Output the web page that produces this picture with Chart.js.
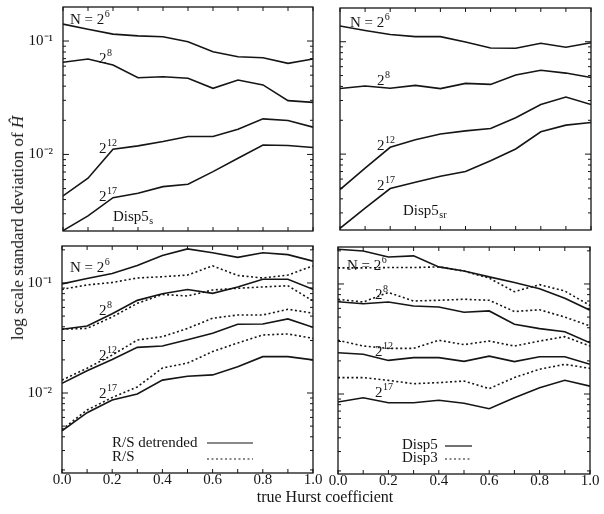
<!DOCTYPE html>
<html>
<head>
<meta charset="utf-8">
<script src="https://cdn.jsdelivr.net/npm/chart.js@4.4.1/dist/chart.umd.min.js"></script>
<style>
  body { margin: 0; background: #fff; }
  #wrap { position: relative; width: 604px; height: 514px; overflow: hidden; font-family: "Liberation Serif", "Times New Roman", serif; color: #151515; }
  canvas { position: absolute; left: 0; top: 0; }
  #ytitle { position: absolute; left: 18px; top: 228px; transform: translate(-50%, -50%) rotate(-90deg); white-space: nowrap; font-size: 17px; }
  #xtitle { position: absolute; left: 325px; top: 497px; transform: translate(-50%, -50%); white-space: nowrap; font-size: 16px; }
</style>
</head>
<body>
<div id="wrap">
  <canvas id="disp5s" width="604" height="514"></canvas>
  <canvas id="disp5sr" width="604" height="514"></canvas>
  <canvas id="rs" width="604" height="514"></canvas>
  <canvas id="disp" width="604" height="514"></canvas>
  <div id="ytitle">log scale standard deviation of <i>Ĥ</i></div>
  <div id="xtitle">true Hurst coefficient</div>
</div>
<script>
// true Hurst coefficient (x categories)
const hurst = [0.0, 0.1, 0.2, 0.3, 0.4, 0.5, 0.6, 0.7, 0.8, 0.9, 1.0];

// Disp5s (top left)
const s6  = [0.141, 0.127, 0.115, 0.111, 0.109, 0.0986, 0.0805, 0.0727, 0.0713, 0.0636, 0.0694];
const s8  = [0.0649, 0.0694, 0.0615, 0.0475, 0.0484, 0.0469, 0.0383, 0.0453, 0.0410, 0.0298, 0.0288];
const s12 = [0.00431, 0.00617, 0.0111, 0.0119, 0.0130, 0.0144, 0.0144, 0.0167, 0.0206, 0.0199, 0.0174];
const s17 = [0.00213, 0.00287, 0.00416, 0.00455, 0.00520, 0.00546, 0.00705, 0.00927, 0.0121, 0.0120, 0.0115];

// Disp5sr (top right)
const sr6  = [0.138, 0.126, 0.116, 0.111, 0.111, 0.0994, 0.0880, 0.0875, 0.0968, 0.0893, 0.0980];
const sr8  = [0.0383, 0.0404, 0.0386, 0.0409, 0.0383, 0.0426, 0.0417, 0.0505, 0.0557, 0.0526, 0.0480];
const sr12 = [0.00484, 0.00752, 0.0115, 0.0134, 0.0151, 0.0161, 0.0169, 0.0211, 0.0276, 0.0322, 0.0276];
const sr17 = [0.00219, 0.00330, 0.00494, 0.00562, 0.00636, 0.00701, 0.00873, 0.0111, 0.0158, 0.0181, 0.0191];

// R/S detrended (solid) and R/S (dotted), bottom left
const rsd6  = [0.098, 0.110, 0.122, 0.144, 0.178, 0.204, 0.188, 0.171, 0.188, 0.181, 0.158];
const rs6   = [0.0875, 0.096, 0.101, 0.111, 0.114, 0.118, 0.143, 0.117, 0.111, 0.118, 0.143];
const rsd8  = [0.0380, 0.0406, 0.0526, 0.0695, 0.0798, 0.0873, 0.0805, 0.092, 0.108, 0.108, 0.0877];
const rs8   = [0.0380, 0.0387, 0.0491, 0.0653, 0.0785, 0.0762, 0.0863, 0.0895, 0.092, 0.0944, 0.0686];
const rsd12 = [0.01225, 0.01596, 0.0202, 0.0260, 0.0267, 0.0305, 0.0349, 0.0421, 0.0424, 0.0471, 0.0395];
const rs12  = [0.0131, 0.0168, 0.0221, 0.0303, 0.0325, 0.0386, 0.0478, 0.0512, 0.0512, 0.0577, 0.0531];
const rsd17 = [0.00454, 0.00662, 0.00863, 0.0098, 0.0131, 0.0142, 0.0146, 0.0173, 0.0214, 0.0214, 0.0200];
const rs17  = [0.00466, 0.0070, 0.0091, 0.01135, 0.01687, 0.0187, 0.0238, 0.0285, 0.0337, 0.0344, 0.0314];

// Disp5 (solid) and Disp3 (dotted), bottom right
const d5_6  = [0.2065, 0.1995, 0.176, 0.180, 0.143, 0.131, 0.116, 0.103, 0.0906, 0.0741, 0.0577];
const d3_6  = [0.140, 0.140, 0.141, 0.141, 0.143, 0.131, 0.113, 0.0851, 0.0985, 0.0863, 0.0638];
const d5_8  = [0.069, 0.0662, 0.0686, 0.0631, 0.0618, 0.0553, 0.0569, 0.0431, 0.0393, 0.0368, 0.0292];
const d3_8  = [0.0726, 0.0686, 0.0837, 0.070, 0.0711, 0.0726, 0.0711, 0.0562, 0.0583, 0.0501, 0.0415];
const d5_12 = [0.0237, 0.0230, 0.0202, 0.0214, 0.0214, 0.0198, 0.0221, 0.0197, 0.0218, 0.0218, 0.0186];
const d3_12 = [0.0308, 0.0273, 0.0260, 0.0260, 0.0308, 0.0281, 0.0303, 0.0273, 0.0303, 0.0332, 0.0273];
const d5_17 = [0.00846, 0.00925, 0.00834, 0.00834, 0.00877, 0.00823, 0.00735, 0.00925, 0.0114, 0.01334, 0.0118];
const d3_17 = [0.0141, 0.0141, 0.0133, 0.0124, 0.0127, 0.0131, 0.0112, 0.0141, 0.0168, 0.0186, 0.0171];

// tick labels
const xTickLabels = ['0.0', '0.2', '0.4', '0.6', '0.8', '1.0'];
const yTickLabels = { '-1': '10\u207B\u00B9', '-2': '10\u207B\u00B2' };

const ink = '#151515';
const serif = '"Liberation Serif", "Times New Roman", serif';
const YW = 40, XH = 30;

// small log ticks 1..9 x 10^e inside the range
function logTicks(min, max) {
    const out = [];
    for (let e = Math.floor(Math.log10(min)); e <= Math.ceil(Math.log10(max)); e++) {
        for (let k = 1; k <= 9; k++) {
            const v = k * Math.pow(10, e);
            if (v >= min && v <= max) out.push({ value: v, major: k === 1 });
        }
    }
    return out;
}

// box round the plot with inward ticks on all four sides
const framePlugin = {
    id: 'frame',
    afterDraw(chart) {
        const ctx = chart.ctx, a = chart.chartArea;
        ctx.save();
        ctx.strokeStyle = ink;
        ctx.lineWidth = 1.3;
        ctx.strokeRect(a.left, a.top, a.right - a.left, a.bottom - a.top);
        ctx.lineWidth = 1;
        ctx.beginPath();
        chart.scales.x.ticks.forEach(t => {
            const px = chart.scales.x.getPixelForValue(t.value);
            ctx.moveTo(px, a.bottom); ctx.lineTo(px, a.bottom - 4);
            ctx.moveTo(px, a.top); ctx.lineTo(px, a.top + 4);
        });
        chart.scales.y.ticks.forEach(t => {
            const py = chart.scales.y.getPixelForValue(t.value);
            const len = t.major ? 6 : 3;
            ctx.moveTo(a.left, py); ctx.lineTo(a.left + len, py);
            ctx.moveTo(a.right, py); ctx.lineTo(a.right - len, py);
        });
        ctx.stroke();
        ctx.restore();
    }
};

// curve names and legend, placed relative to the plot area
const notesPlugin = {
    id: 'notes',
    afterDatasetsDraw(chart, args, opts) {
        const ctx = chart.ctx, a = chart.chartArea;
        ctx.save();
        ctx.fillStyle = ink;
        ctx.textBaseline = 'alphabetic';
        (opts.labels || []).forEach(l => {
            const x = a.left + l.dx, y = a.top + l.dy;
            ctx.font = '15px ' + serif;
            ctx.fillText(l.text, x, y);
            const w = ctx.measureText(l.text).width;
            ctx.font = '10px ' + serif;
            if (l.sup) ctx.fillText(l.sup, x + w + 0.5, y - 7);
            if (l.sub) ctx.fillText(l.sub, x + w + 0.5, y + 3);
        });
        ctx.strokeStyle = ink;
        ctx.lineWidth = 1.2;
        (opts.keys || []).forEach(k => {
            ctx.setLineDash(k.dash ? [2, 2.5] : []);
            ctx.beginPath();
            ctx.moveTo(a.left + k.x1, a.top + k.dy);
            ctx.lineTo(a.left + k.x2, a.top + k.dy);
            ctx.stroke();
        });
        ctx.restore();
    }
};

function line(values, dashed) {
    return {
        data: hurst.map((h, i) => ({ x: h, y: values[i] })),
        borderColor: ink,
        borderWidth: 1.6,
        borderDash: dashed ? [2, 2.5] : [],
        pointRadius: 0,
        tension: 0,
        fill: false
    };
}

function makePanel(id, area, yMin, yMax, showX, showY, datasets, labels, keys) {
    return new Chart(document.getElementById(id), {
        type: 'line',
        data: { datasets: datasets },
        options: {
            responsive: false,
            animation: false,
            layout: { padding: { left: area.l - YW, top: area.t, right: 604 - area.r, bottom: 514 - area.b - XH } },
            plugins: {
                legend: { display: false },
                tooltip: { enabled: false },
                notes: { labels: labels, keys: keys }
            },
            scales: {
                x: {
                    type: 'linear', min: 0, max: 1,
                    ticks: {
                        display: showX, stepSize: 0.1, autoSkip: false, maxRotation: 0, padding: -10,
                        color: ink, font: { family: serif, size: 15 },
                        callback: v => {
                            const i = Math.round(v * 10);
                            return i % 2 === 0 ? xTickLabels[i / 2] : '';
                        }
                    },
                    grid: { display: false },
                    border: { display: false },
                    afterFit: s => { s.height = XH; s.paddingLeft = 0; s.paddingRight = 0; }
                },
                y: {
                    type: 'logarithmic', min: yMin, max: yMax,
                    ticks: {
                        display: showY, autoSkip: false, padding: 2,
                        color: ink, font: { family: serif, size: 15 },
                        callback: v => {
                            const e = Math.round(Math.log10(v));
                            return Math.abs(Math.log10(v) - e) < 1e-9 && yTickLabels[e] ? yTickLabels[e] : '';
                        }
                    },
                    grid: { display: false },
                    border: { display: false },
                    afterBuildTicks: s => { s.ticks = logTicks(s.min, s.max); },
                    afterFit: s => { s.width = YW; s.paddingTop = 0; s.paddingBottom = 0; }
                }
            }
        },
        plugins: [framePlugin, notesPlugin]
    });
}

const topMin = Math.pow(10, -2.675), topMax = Math.pow(10, -0.70);
const botMin = Math.pow(10, -2.727), botMax = Math.pow(10, -0.664);

makePanel('disp5s', { l: 63, t: 7, r: 313, b: 231 }, topMin, topMax, false, true,
    [line(s6), line(s8), line(s12), line(s17)],
    [
        { dx: 7, dy: 17, text: 'N = 2', sup: '6' },
        { dx: 36, dy: 56, text: '2', sup: '8' },
        { dx: 36, dy: 146, text: '2', sup: '12' },
        { dx: 36, dy: 194, text: '2', sup: '17' },
        { dx: 50, dy: 214, text: 'Disp5', sub: 's' }
    ], []);

makePanel('disp5sr', { l: 340, t: 8, r: 591, b: 230 }, topMin, topMax, false, false,
    [line(sr6), line(sr8), line(sr12), line(sr17)],
    [
        { dx: 10, dy: 19, text: 'N = 2', sup: '6' },
        { dx: 37, dy: 77, text: '2', sup: '8' },
        { dx: 37, dy: 142, text: '2', sup: '12' },
        { dx: 37, dy: 182, text: '2', sup: '17' },
        { dx: 63, dy: 207, text: 'Disp5', sub: 'sr' }
    ], []);

makePanel('rs', { l: 62, t: 246, r: 313, b: 473 }, botMin, botMax, true, true,
    [line(rsd6), line(rs6, true), line(rsd8), line(rs8, true),
     line(rsd12), line(rs12, true), line(rsd17), line(rs17, true)],
    [
        { dx: 8, dy: 26, text: 'N = 2', sup: '6' },
        { dx: 37, dy: 69, text: '2', sup: '8' },
        { dx: 37, dy: 114, text: '2', sup: '12' },
        { dx: 37, dy: 152, text: '2', sup: '17' },
        { dx: 50, dy: 201, text: 'R/S detrended' },
        { dx: 50, dy: 215, text: 'R/S' }
    ],
    [
        { x1: 145, x2: 191, dy: 197, dash: false },
        { x1: 145, x2: 191, dy: 213, dash: true }
    ]);

makePanel('disp', { l: 338, t: 247, r: 590, b: 474 }, botMin, botMax, true, false,
    [line(d5_6), line(d3_6, true), line(d5_8), line(d3_8, true),
     line(d5_12), line(d3_12, true), line(d5_17), line(d3_17, true)],
    [
        { dx: 9, dy: 23, text: 'N = 2', sup: '6' },
        { dx: 37, dy: 52, text: '2', sup: '8' },
        { dx: 37, dy: 109, text: '2', sup: '12' },
        { dx: 37, dy: 150, text: '2', sup: '17' },
        { dx: 64, dy: 202, text: 'Disp5' },
        { dx: 64, dy: 215, text: 'Disp3' }
    ],
    [
        { x1: 107, x2: 134, dy: 199, dash: false },
        { x1: 107, x2: 134, dy: 212, dash: true }
    ]);
</script>
</body>
</html>
